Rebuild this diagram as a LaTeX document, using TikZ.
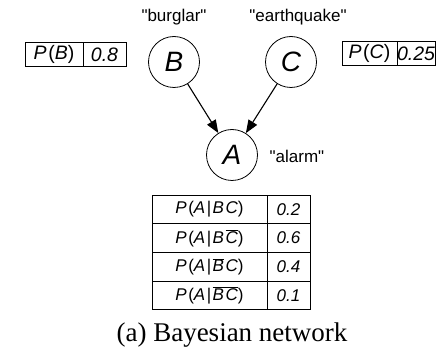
\documentclass[tikz,border=0pt]{standalone}
\usepackage{fontspec}
\setmainfont{Liberation Sans}
\newfontfamily\capfont{Liberation Serif}
\usetikzlibrary{arrows.meta}
\newcommand{\ob}[1]{$\overline{\mbox{#1}}$}
\newcommand{\qq}{\textquotedbl}
\begin{document}
\begin{tikzpicture}[x=1pt,y=-1pt,
  var/.style={draw,circle,line width=0.8pt,minimum size=51pt,inner sep=0pt,font=\fontsize{28}{28}\selectfont\itshape},
  lbl/.style={font=\fontsize{17}{17}\selectfont},
  cell/.style={draw,line width=0.8pt,minimum height=24pt,inner sep=0pt,font=\fontsize{19.5}{19.5}\selectfont},
  tcell/.style={draw,line width=0.8pt,minimum height=28.7pt,inner sep=0pt,font=\fontsize{17}{17}\selectfont},
  edge/.style={line width=1.1pt,-{Triangle[length=13pt,width=10pt]}}]
\useasboundingbox (0,0) rectangle (440,350);
% nodes
\node[var] (B) at (174,62) {B};
\node[var] (C) at (291,62) {C};
\node[var] (A) at (232,155) {A};
\node[lbl,anchor=base] (lb) at (174,22) {\qq burglar\qq};
\node[lbl,anchor=base] (lc) at (298,22) {\qq earthquake\qq};
\node[lbl,anchor=base] (la) at (297,163) {\qq alarm\qq};
% edges
\draw[edge] (B) -- (A);
\draw[edge] (C) -- (A);
% prior tables
\node[cell,minimum width=58pt] (pb1) at (54,54.5) {\textit{P}\kern1.5pt(\textit{B})};
\node[cell,minimum width=43pt] (pb2) at (104.5,54.5) {\textit{0.8}};
\node[cell,minimum width=55pt] (pc1) at (369.5,53.5) {\textit{P}\kern1.5pt(\textit{C})};
\node[cell,minimum width=38pt] (pc2) at (416,53.5) {\textit{0.25}};
% CPT
\node[tcell,minimum width=115pt] (r1) at (209.5,209.35) {\textit{P}\kern1.5pt(\textit{A}\kern1.5pt|\kern1.5pt\textit{B}\kern1.5pt\textit{C})};
\node[tcell,minimum width=43pt] (v1) at (288.5,209.35) {\textit{0.2}};
\node[tcell,minimum width=115pt] (r2) at (209.5,238.05) {\textit{P}\kern1.5pt(\textit{A}\kern1.5pt|\kern1.5pt\textit{B}\kern1.5pt\ob{\textit{C}})};
\node[tcell,minimum width=43pt] (v2) at (288.5,238.05) {\textit{0.6}};
\node[tcell,minimum width=115pt] (r3) at (209.5,266.75) {\textit{P}\kern1.5pt(\textit{A}\kern1.5pt|\kern1.5pt\ob{\textit{B}}\kern1.5pt\textit{C})};
\node[tcell,minimum width=43pt] (v3) at (288.5,266.75) {\textit{0.4}};
\node[tcell,minimum width=115pt] (r4) at (209.5,295.45) {\textit{P}\kern1.5pt(\textit{A}\kern1.5pt|\kern1.5pt\ob{\textit{B}\kern1.5pt\textit{C}})};
\node[tcell,minimum width=43pt] (v4) at (288.5,295.45) {\textit{0.1}};
% caption
\node[anchor=base,font=\fontsize{27}{27}\capfont] (cap) at (232,342) {(a) Bayesian network};
\end{tikzpicture}
\end{document}
